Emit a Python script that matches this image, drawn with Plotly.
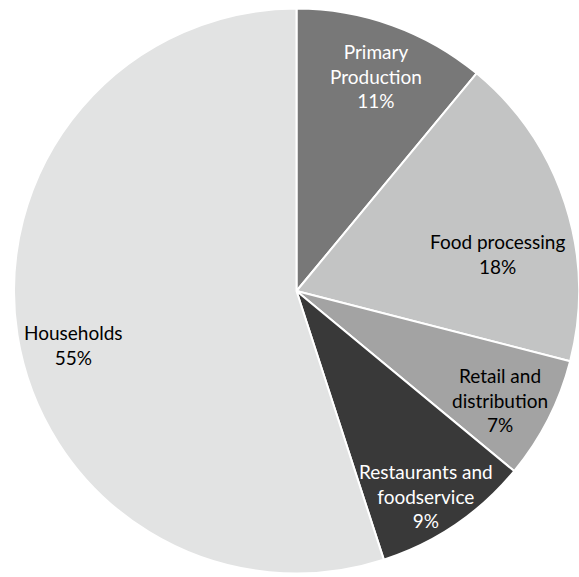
import plotly.graph_objects as go

labels = ["Primary<br>Production", "Food processing", "Retail and<br>distribution",
          "Restaurants and<br>foodservice", "Households"]
values = [11, 18, 7, 9, 55]
colors = ["#787878", "#c3c4c4", "#a3a3a3", "#393939", "#e2e3e3"]
text_colors = ["#ffffff", "#000000", "#000000", "#ffffff", "#000000"]
# label centre positions in pixels (x, y from top-left)
label_pos = [(376, 76), (498, 254), (500, 400), (426, 496), (73, 345)]

W, H = 579, 577

fig = go.Figure(go.Pie(
    labels=labels,
    values=values,
    sort=False,
    direction="clockwise",
    rotation=0,
    marker=dict(colors=colors, line=dict(color="#ffffff", width=2)),
    textinfo="none",
    hoverinfo="skip",
    showlegend=False,
    domain=dict(x=[14/W, 1], y=[0, 572/H]),
))

total = sum(values)
for lab, v, tc, (px, py) in zip(labels, values, text_colors, label_pos):
    fig.add_annotation(
        x=px / W, y=1 - py / H, xref="paper", yref="paper",
        text=f"{lab}<br>{round(100 * v / total)}%",
        showarrow=False, xanchor="center", yanchor="middle", align="center",
        font=dict(family="Lato", size=19, color=tc),
    )

fig.update_layout(
    width=W, height=H,
    margin=dict(l=0, r=0, t=0, b=0),
    paper_bgcolor="#ffffff",
)

fig.write_html("out.html")
